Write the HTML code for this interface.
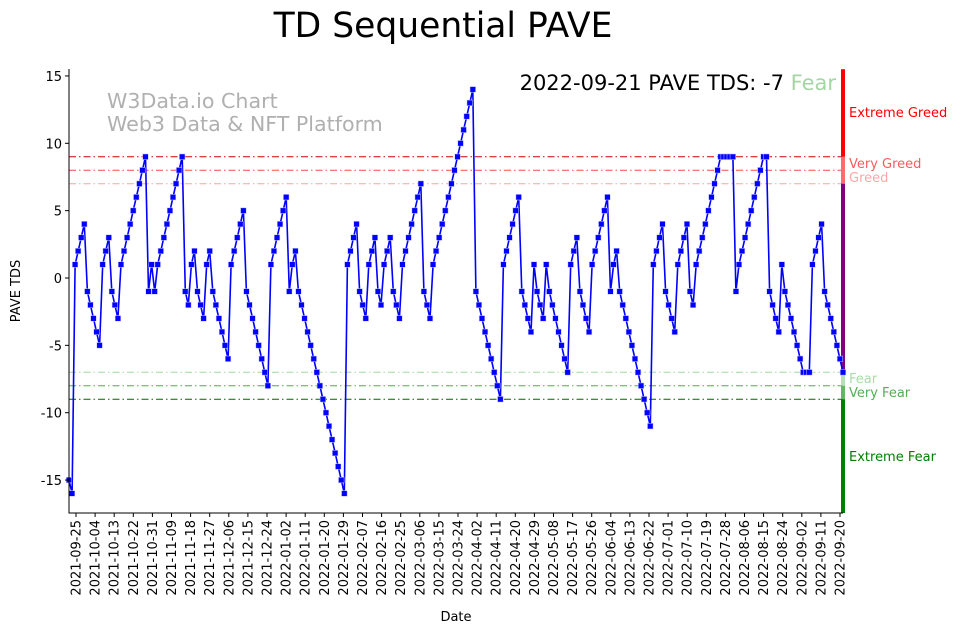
<!DOCTYPE html>
<html><head><meta charset="utf-8"><style>
body{margin:0;background:#fff;}
svg text{font-family:"DejaVu Sans","Liberation Sans",sans-serif;}
</style></head><body>
<svg id="chart" width="962" height="633" xmlns="http://www.w3.org/2000/svg">
<text x="443" y="37" font-size="34.5" text-anchor="middle">TD Sequential PAVE</text>
<text x="107" y="108" font-size="20.6" fill="#b0b0b0">W3Data.io Chart</text>
<text x="107" y="131" font-size="20.6" fill="#b0b0b0">Web3 Data &amp; NFT Platform</text>
<text x="836" y="90" font-size="21" text-anchor="end">2022-09-21 PAVE TDS: -7 <tspan fill="#a5d6a5">Fear</tspan></text>
<g id="plot"></g>
<text x="456" y="621" font-size="13" text-anchor="middle">Date</text>
<text transform="translate(20,291) rotate(-90)" font-size="13" text-anchor="middle">PAVE TDS</text>
</svg>
<script>
const runs = [
[-15,-16],[1,2,3,4],[-1,-2,-3,-4,-5],[1,2,3],[-1,-2,-3],[1,2,3,4,5,6,7,8,9],[-1],[1],[-1],
[1,2,3,4,5,6,7,8,9],[-1,-2],[1,2],[-1,-2,-3],[1,2],[-1,-2,-3,-4,-5,-6],[1,2,3,4,5],
[-1,-2,-3,-4,-5,-6,-7,-8],[1,2,3,4,5,6],[-1],[1,2],[-1,-2,-3,-4,-5,-6,-7,-8,-9,-10,-11,-12,-13,-14,-15,-16],
[1,2,3,4],[-1,-2,-3],[1,2,3],[-1,-2],[1,2,3],[-1,-2,-3],[1,2,3,4,5,6,7],[-1,-2,-3],
[1,2,3,4,5,6,7,8,9,10,11,12,13,14],[-1,-2,-3,-4,-5,-6,-7,-8,-9],[1,2,3,4,5,6],[-1,-2,-3,-4],[1],[-1,-2,-3],[1],
[-1,-2,-3,-4,-5,-6,-7],[1,2,3],[-1,-2,-3,-4],[1,2,3,4,5,6],[-1],[1,2],[-1,-2,-3,-4,-5,-6,-7,-8,-9,-10,-11],
[1,2,3,4],[-1,-2,-3,-4],[1,2,3,4],[-1,-2],[1,2,3,4,5,6,7,8,9,9,9,9,9],[-1],[1,2,3,4,5,6,7,8,9,9],
[-1,-2,-3,-4],[1],[-1,-2,-3,-4,-5,-6,-7,-7,-7],[1,2,3,4],[-1,-2,-3,-4,-5,-6,-7]
];
const values = [].concat(...runs);
const xTickLabels = ["2021-09-25","2021-10-04","2021-10-13","2021-10-22","2021-10-31","2021-11-09","2021-11-18","2021-11-27","2021-12-06","2021-12-15","2021-12-24","2022-01-02","2022-01-11","2022-01-20","2022-01-29","2022-02-07","2022-02-16","2022-02-25","2022-03-06","2022-03-15","2022-03-24","2022-04-02","2022-04-11","2022-04-20","2022-04-29","2022-05-08","2022-05-17","2022-05-26","2022-06-04","2022-06-13","2022-06-22","2022-07-01","2022-07-10","2022-07-19","2022-07-28","2022-08-06","2022-08-15","2022-08-24","2022-09-02","2022-09-11","2022-09-20"];
const yTicks = [-15,-10,-5,0,5,10,15];
const levels = [9,8,7,-7,-8,-9];
const levelNames = ["Extreme Greed","Very Greed","Greed","Fear","Very Fear","Extreme Fear"];

const L=69,R=843,T=69,B=513;
const ys=v=>278-v*13.47;
const xi=i=>L+i*(R-L)/(values.length-1);
const xTick=k=>76+k*19.1;
const NS="http://www.w3.org/2000/svg";
const g=document.getElementById('plot');
function mk(t,a,p){const e=document.createElementNS(NS,t);for(const k in a)e.setAttribute(k,a[k]);(p||g).appendChild(e);return e;}

const lvlColors=["#d00000","#ff4a4a","#ffa0a0","#a0d8a0","#48b048","#006400"];
levels.forEach((v,i)=>{
  const ln=mk('line',{x1:L,x2:R,y1:ys(v),y2:ys(v),stroke:lvlColors[i],'stroke-width':1,'stroke-dasharray':'7,3,1.5,3'});
  
  
});
const segs=[[15.5,9,"#ff0000"],[9,7,"#ff6a6a"],[7,-7,"#800080"],[-7,-8,"#b5e0b5"],[-8,-9,"#60b860"],[-9,-17.5,"#008000"]];
segs.forEach((s,i)=>{
  const r=mk('rect',{x:841,y:Math.max(T,ys(s[0])),width:4,height:Math.min(B,ys(s[1]))-Math.max(T,ys(s[0])),fill:s[2]});
  
  
});
const lblY=[113,164,178,379,393,457];
const lblC=["#ff0000","#ff5a5a","#ffa8a8","#a8dca8","#50b050","#008000"];
levelNames.forEach((n,i)=>{
  const t=mk('text',{x:849,y:lblY[i]+4,'font-size':13,fill:lblC[i]});t.textContent=n;
  
  
});
const pts=values.map((v,i)=>xi(i).toFixed(1)+','+ys(v).toFixed(1)).join(' ');
const pl=mk('polyline',{points:pts,fill:'none',stroke:'#0000ff','stroke-width':1.6});


values.forEach((v,i)=>{
  const m=mk('rect',{x:xi(i)-2.8,y:ys(v)-2.8,width:5.6,height:5.6,fill:'#0000ff',stroke:'#ccccff','stroke-width':0.5});
  
  
});
const ax=mk('path',{d:`M${L},${T}V${B}H${R}`,fill:'none',stroke:'#000','stroke-width':1});


yTicks.forEach(v=>{
  mk('line',{x1:L-4,x2:L,y1:ys(v),y2:ys(v),stroke:'#000'});
  const t=mk('text',{x:L-7,y:ys(v)+5,'font-size':13,'text-anchor':'end'});t.textContent=v;
  
  
});
xTickLabels.forEach((s,k)=>{
  const x=xTick(k);
  mk('line',{x1:x,x2:x,y1:B,y2:B+4,stroke:'#000'});
  const t=mk('text',{transform:`translate(${x+4.5},${B+7}) rotate(-90)`,'font-size':13,'text-anchor':'end'});t.textContent=s;
  
  
});
</script>
</body></html>
